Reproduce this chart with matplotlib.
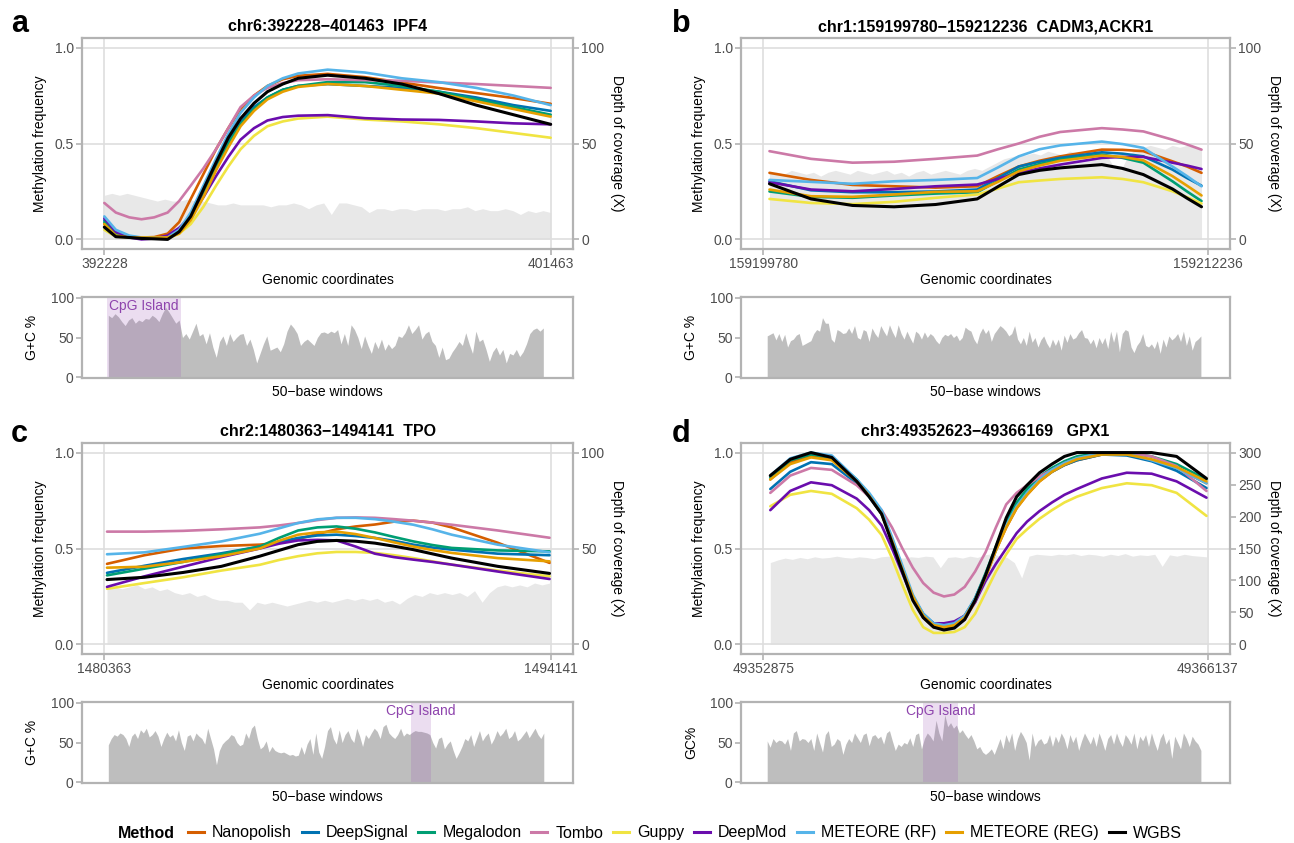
import numpy as np
import matplotlib
matplotlib.use('Agg')
import matplotlib.pyplot as plt
from matplotlib.lines import Line2D

plt.rcParams['font.family'] = ['Liberation Sans', 'DejaVu Sans']

methods = ['Nanopolish', 'DeepSignal', 'Megalodon', 'Tombo', 'Guppy', 'DeepMod',
           'METEORE (RF)', 'METEORE (REG)', 'WGBS']
colors = ['#D55E00', '#0072B2', '#009E73', '#CC79A7', '#F0E442', '#6A0DAD',
          '#56B4E9', '#E69F00', '#000000']

# ---- panel a: chr6 IPF4
a_title = 'chr6:392228\u2212401463  IPF4'
a_region = [392228, 401463]
a_pos = [392228, 392466, 392744, 392998, 393260, 393538, 393776, 394015,
         394277, 394539, 394793, 395047, 395325, 395603, 395920, 396238,
         396849, 397620, 398382, 399152, 399922, 400693, 401463]
a_meth = [
    [.08, .03, .012, .01, .012, .03, .09, .21, .34, .47, .58, .68, .75, .80, .835, .853, .863, .846, .818, .789, .763, .737, .707],
    [.10, .03, .012, .01, .01, .01, .04, .12, .25, .39, .51, .61, .69, .74, .78, .80, .81, .80, .79, .77, .74, .70, .67],
    [.09, .03, .012, .01, .01, .01, .035, .11, .23, .37, .50, .60, .68, .74, .78, .80, .82, .82, .80, .77, .73, .69, .65],
    [.19, .14, .115, .105, .115, .14, .20, .28, .37, .47, .58, .69, .75, .79, .815, .83, .835, .83, .827, .818, .81, .80, .79],
    [.05, .015, .01, .01, .008, .005, .03, .08, .17, .28, .38, .47, .54, .59, .615, .63, .64, .625, .615, .60, .58, .555, .53],
    [.11, .04, .01, .0, .005, .02, .06, .12, .22, .33, .43, .52, .58, .62, .638, .645, .648, .632, .625, .623, .615, .605, .60],
    [.12, .05, .02, .01, .01, .01, .05, .14, .28, .42, .55, .66, .74, .80, .84, .865, .885, .87, .84, .82, .79, .75, .70],
    [.08, .02, .01, .01, .01, .01, .03, .10, .22, .36, .48, .59, .67, .73, .77, .795, .81, .80, .78, .76, .72, .68, .64],
    [.064, .014, .01, .005, .003, .0, .04, .12, .26, .40, .53, .63, .71, .77, .81, .84, .856, .84, .81, .76, .70, .65, .60],
]
a_cov = [23, 24, 23, 24, 23, 22, 21, 20, 21, 20,
         20, 21, 20, 20, 19, 18, 18, 19, 18, 18,
         18, 18, 17, 18, 18, 19, 18, 16, 18, 19,
         13, 19, 19, 18, 17, 14, 16, 16, 15, 16,
         16, 15, 16, 16, 16, 15, 16, 16, 17, 15,
         16, 15, 15, 16, 15, 13, 15, 14, 15, 14]
a_gc = [78, 75, 80, 76, 70, 65, 72, 75, 68, 72,
        70, 74, 73, 78, 75, 70, 80, 88, 82, 75,
        68, 72, 50, 55, 48, 58, 68, 52, 55, 42,
        56, 38, 25, 45, 52, 40, 55, 45, 50, 54,
        55, 40, 48, 35, 18, 30, 42, 52, 34, 36,
        38, 32, 42, 58, 67, 62, 55, 40, 45, 48,
        44, 40, 50, 56, 57, 55, 58, 56, 60, 42,
        55, 40, 66, 60, 50, 36, 52, 40, 30, 45,
        36, 48, 34, 42, 36, 40, 52, 50, 56, 66,
        55, 60, 66, 48, 55, 58, 45, 40, 25, 38,
        22, 24, 32, 38, 45, 40, 56, 42, 30, 58,
        45, 48, 35, 20, 32, 38, 28, 35, 18, 30,
        28, 35, 26, 32, 42, 55, 60, 62, 58, 62]
a_island = [0, 21]

# ---- panel b: chr1 CADM3,ACKR1
b_title = 'chr1:159199780\u2212159212236  CADM3,ACKR1'
b_region = [159199780, 159212236]
b_pos = [159199955, 159201119, 159202283, 159203447, 159204611, 159205775,
         159206357, 159206939, 159207521, 159208103, 159209267, 159209849,
         159210431, 159211246, 159211654, 159212061]
b_meth = [
    [.347, .31, .284, .277, .27, .277, .33, .38, .41, .433, .468, .467, .46, .407, .38, .347],
    [.303, .256, .246, .246, .25, .26, .32, .38, .405, .425, .454, .447, .433, .364, .32, .28],
    [.25, .222, .217, .229, .239, .246, .305, .364, .393, .416, .442, .425, .40, .303, .25, .20],
    [.46, .42, .40, .405, .42, .437, .47, .50, .535, .56, .58, .573, .563, .52, .495, .468],
    [.211, .19, .184, .196, .217, .234, .265, .298, .307, .315, .324, .315, .298, .251, .22, .187],
    [.298, .26, .251, .263, .277, .286, .315, .347, .37, .39, .425, .43, .43, .40, .385, .367],
    [.31, .30, .29, .303, .31, .32, .375, .433, .47, .49, .51, .497, .477, .38, .33, .277],
    [.26, .225, .222, .234, .248, .251, .30, .355, .385, .41, .437, .43, .412, .33, .28, .229],
    [.29, .211, .177, .17, .182, .211, .275, .338, .36, .373, .39, .37, .338, .263, .215, .17],
]
b_cov = [35, 35, 34, 36, 35, 34, 35, 33, 35, 36,
         35, 34, 36, 35, 34, 35, 36, 34, 35, 33,
         35, 36, 34, 35, 36, 35, 34, 36, 37, 36,
         38, 40, 42, 43, 44, 44, 45, 44, 46, 45,
         44, 46, 45, 44, 45, 46, 44, 38, 36, 44,
         47, 48, 49, 48, 47, 49, 48, 49, 48, 47]
b_gc = [52, 54, 56, 47, 55, 45, 54, 38, 46, 48,
        53, 55, 40, 42, 44, 46, 55, 60, 58, 75,
        68, 68, 48, 44, 60, 58, 55, 56, 62, 55,
        65, 50, 48, 60, 58, 45, 62, 55, 50, 65,
        58, 52, 66, 57, 50, 66, 55, 48, 58, 50,
        43, 58, 55, 48, 57, 50, 55, 52, 46, 42,
        50, 54, 52, 55, 50, 53, 46, 50, 63, 60,
        58, 48, 42, 55, 62, 55, 60, 45, 55, 60,
        65, 62, 58, 52, 55, 65, 48, 42, 50, 40,
        58, 44, 50, 38, 47, 52, 43, 37, 48, 40,
        48, 34, 53, 44, 55, 48, 50, 56, 60, 50,
        49, 42, 48, 37, 50, 42, 50, 36, 58, 44,
        58, 32, 55, 60, 58, 38, 31, 40, 45, 55,
        40, 38, 42, 36, 46, 30, 48, 38, 52, 47,
        50, 55, 45, 58, 40, 52, 34, 45, 48, 52]
b_island = None

# ---- panel c: chr2 TPO
c_title = 'chr2:1480363\u22121494141  TPO'
c_region = [1480363, 1494141]
c_pos = [1480446, 1481607, 1482792, 1483976, 1485161, 1485753, 1486346, 1486938,
         1487530, 1488123, 1488715, 1489307, 1489900, 1490492, 1491085, 1492506, 1494106]
c_meth = [
    [.42, .465, .50, .513, .52, .53, .55, .575, .60, .615, .625, .64, .645, .635, .61, .53, .425],
    [.373, .41, .445, .475, .51, .535, .555, .568, .572, .565, .555, .54, .52, .505, .494, .473, .465],
    [.36, .395, .43, .47, .51, .555, .594, .61, .615, .603, .584, .56, .537, .518, .503, .49, .485],
    [.588, .588, .592, .60, .61, .62, .633, .648, .66, .662, .66, .653, .645, .635, .624, .594, .556],
    [.29, .32, .35, .385, .415, .44, .46, .475, .482, .482, .477, .465, .45, .433, .416, .385, .355],
    [.30, .355, .405, .455, .50, .525, .542, .545, .542, .51, .473, .455, .442, .43, .416, .38, .341],
    [.47, .48, .508, .537, .577, .605, .633, .652, .66, .66, .653, .64, .624, .60, .572, .52, .48],
    [.40, .405, .43, .46, .50, .54, .572, .584, .588, .575, .555, .532, .51, .492, .477, .45, .433],
    [.338, .35, .375, .407, .46, .49, .52, .537, .542, .538, .528, .512, .494, .472, .45, .407, .37],
]
c_cov = [29, 30, 29, 30, 31, 29, 30, 28, 29, 27,
         26, 27, 25, 26, 24, 23, 23, 22, 22, 18,
         22, 21, 22, 21, 20, 21, 22, 23, 22, 23,
         22, 23, 24, 23, 24, 23, 24, 22, 23, 21,
         24, 26, 25, 27, 26, 27, 26, 27, 25, 28,
         22, 27, 30, 31, 30, 31, 30, 32, 31, 32]
c_gc = [47, 55, 60, 58, 62, 60, 55, 45, 58, 62,
        55, 66, 62, 68, 57, 60, 65, 58, 45, 55,
        63, 57, 60, 52, 66, 50, 40, 58, 60, 52,
        62, 58, 55, 48, 68, 55, 42, 22, 40, 48,
        52, 55, 60, 58, 50, 46, 48, 62, 55, 68,
        72, 55, 42, 45, 52, 38, 45, 40, 38, 37,
        38, 36, 34, 35, 33, 34, 45, 35, 48, 55,
        35, 62, 38, 30, 45, 65, 70, 55, 48, 66,
        50, 60, 65, 55, 50, 68, 58, 45, 60, 55,
        62, 68, 64, 55, 70, 73, 62, 58, 55, 60,
        68, 58, 62, 60, 63, 65, 64, 64, 63, 62,
        60, 50, 43, 55, 57, 42, 48, 52, 40, 30,
        37, 45, 55, 52, 60, 45, 55, 65, 52, 58,
        62, 48, 55, 65, 58, 62, 68, 55, 58, 65,
        52, 55, 60, 65, 56, 62, 68, 60, 55, 62]
c_island = [104, 110]

# ---- panel d: chr3 GPX1
d_title = 'chr3:49352623\u221249366169   GPX1'
d_region = [49352875, 49366137]
d_pos = [49353086, 49353681, 49354300, 49354920, 49355664, 49356035, 49356407,
         49356717, 49357027, 49357337, 49357647, 49357957, 49358266, 49358576,
         49358886, 49359196, 49359506, 49359816, 49360125, 49360435, 49360745,
         49361117, 49361489, 49361861, 49362232, 49362976, 49363720, 49364463,
         49365207, 49366099]
d_meth = [
    [.86, .95, .98, .965, .85, .775, .68, .54, .39, .24, .14, .09, .08, .09, .13, .22, .35, .49, .61, .71, .78, .85, .90, .935, .96, .99, .99, .96, .92, .84],
    [.81, .90, .95, .94, .84, .77, .68, .55, .40, .25, .16, .11, .10, .11, .15, .24, .36, .50, .62, .72, .79, .855, .90, .935, .96, .99, .985, .955, .905, .815],
    [.87, .96, .99, .975, .86, .78, .69, .55, .40, .25, .15, .10, .09, .10, .14, .24, .37, .51, .64, .74, .81, .875, .92, .955, .98, 1.0, 1.0, .98, .94, .86],
    [.79, .88, .92, .91, .83, .77, .70, .61, .50, .40, .32, .27, .25, .26, .30, .38, .48, .61, .73, .79, .83, .875, .91, .945, .97, .995, 1.0, .98, .93, .80],
    [.72, .78, .80, .785, .71, .65, .57, .45, .31, .18, .09, .06, .06, .065, .09, .16, .27, .38, .47, .55, .60, .655, .70, .74, .77, .815, .84, .83, .79, .67],
    [.70, .80, .845, .83, .76, .70, .62, .50, .37, .24, .15, .11, .11, .12, .15, .22, .33, .42, .50, .58, .64, .695, .74, .78, .81, .865, .895, .89, .85, .765],
    [.88, .97, 1.0, .985, .86, .79, .70, .56, .41, .26, .16, .11, .10, .11, .15, .24, .36, .49, .62, .72, .79, .86, .91, .945, .97, 1.0, .995, .96, .92, .84],
    [.86, .94, .975, .96, .85, .775, .68, .54, .39, .25, .15, .10, .09, .10, .14, .23, .35, .49, .61, .71, .78, .85, .90, .937, .965, .99, .99, .965, .925, .85],
    [.88, .965, 1.0, .975, .85, .77, .68, .53, .38, .23, .14, .09, .075, .085, .13, .23, .36, .51, .66, .77, .83, .895, .94, .98, 1.0, 1.0, 1.0, 1.0, .98, .865],
]
d_cov = [128, 132, 135, 133, 136, 134, 137, 135, 136, 138,
         136, 135, 137, 136, 134, 137, 138, 136, 135, 137,
         136, 138, 137, 120, 136, 137, 135, 138, 136, 140,
         142, 138, 136, 128, 104, 138, 141, 140, 139, 141,
         140, 142, 139, 141, 140, 138, 141, 139, 142, 138,
         140, 139, 141, 122, 140, 138, 141, 139, 138, 137]
d_gc = [52, 44, 55, 50, 53, 52, 48, 55, 40, 62,
        65, 52, 55, 54, 50, 55, 40, 62, 50, 38,
        60, 65, 45, 48, 55, 52, 35, 48, 55, 50,
        62, 56, 50, 60, 62, 46, 58, 60, 55, 58,
        48, 62, 65, 52, 40, 48, 45, 50, 48, 56,
        45, 60, 62, 42, 55, 62, 58, 52, 78, 62,
        52, 85, 70, 75, 68, 72, 62, 66, 60, 55,
        60, 52, 42, 45, 38, 35, 38, 42, 35, 45,
        55, 42, 60, 50, 62, 40, 55, 64, 58, 50,
        28, 62, 45, 52, 55, 48, 50, 60, 45, 58,
        50, 62, 55, 42, 60, 50, 58, 40, 52, 62,
        55, 48, 58, 45, 62, 52, 40, 55, 60, 48,
        62, 52, 45, 60, 55, 48, 62, 42, 58, 52,
        60, 45, 62, 50, 40, 55, 62, 48, 55, 30,
        58, 50, 42, 62, 55, 45, 58, 52, 48, 40]
d_island = [54, 65]

W, H = 1294, 843
fig = plt.figure(figsize=(W / 100, H / 100), dpi=100)

FRAME = '#B3B3B3'
GRID = '#DEDEDE'
TICKLAB = '#4D4D4D'


def rect(x0, y0, x1, y1):
    return [x0 / W, 1 - y1 / H, (x1 - x0) / W, (y1 - y0) / H]


def style_spines(ax):
    for s in ax.spines.values():
        s.set_color(FRAME)
        s.set_linewidth(1.6)


def draw_top(box, title, region, pos, rows, cov, cov_top, cov_step):
    ax = fig.add_axes(rect(*box))
    tw = ax.twinx()
    ax.set_zorder(tw.get_zorder() + 1)
    ax.patch.set_visible(False)

    s, e = region
    pad = 0.05 * (e - s)
    ax.set_xlim(s - pad, e + pad)
    ax.set_ylim(-0.05, 1.05)
    tw.set_ylim(-0.05 * cov_top, 1.05 * cov_top)

    # coverage track spans the same stretch as the methylation calls
    cx = np.linspace(pos[0], pos[-1], len(cov))
    tw.fill_between(cx, 0, cov, color='#E8E8E8', lw=0)

    for row, c in zip(rows, colors):
        lw = 2.2 if c == '#000000' else 1.9
        ax.plot(pos, row, color=c, lw=lw, solid_joinstyle='round', solid_capstyle='round')

    ax.set_xticks([s, e])
    ax.set_xticklabels([str(s), str(e)])
    ax.set_yticks([0, 0.5, 1.0])
    ax.set_yticklabels(['0.0', '0.5', '1.0'])
    tw.set_yticks(np.arange(0, cov_top + 1, cov_step))
    ax.grid(True, color=GRID, lw=1.2)

    style_spines(ax)
    for sp in tw.spines.values():
        sp.set_visible(False)
    for a in (ax, tw):
        a.tick_params(color=FRAME, labelcolor=TICKLAB, length=4, width=1.2, labelsize=10, pad=2)

    ax.set_xlabel('Genomic coordinates', fontsize=10, labelpad=1)
    ax.set_ylabel('Methylation frequency', fontsize=10, labelpad=5)
    tw.set_ylabel('Depth of coverage (X)', fontsize=10, rotation=-90, va='bottom', labelpad=4)
    ax.set_title(title, fontsize=11.5, fontweight='bold', pad=5)


def draw_gc(box, gc, island, ylabel):
    bx = fig.add_axes(rect(*box))
    n = len(gc)
    idx = np.arange(n)
    bx.fill_between(idx, 0, gc, color='#BEBEBE', lw=0)
    if island is not None:
        bx.axvspan(island[0] - 0.5, island[1] + 0.5, color='#9B59B6', alpha=0.2, lw=0)
        bx.text((island[0] + island[1]) / 2, 90, 'CpG Island', color='#8E44AD',
                ha='center', va='center', fontsize=10)
    bx.set_xlim(-0.06 * n, 1.06 * n)
    bx.set_ylim(-1, 101)
    bx.set_xticks([])
    bx.set_yticks([0, 50, 100])
    style_spines(bx)
    bx.tick_params(color=FRAME, labelcolor=TICKLAB, length=4, width=1.2, labelsize=10, pad=2)
    bx.set_xlabel('50\u2212base windows', fontsize=10, labelpad=5)
    bx.set_ylabel(ylabel, fontsize=10, labelpad=8)


draw_top((82, 38, 573, 249), a_title, a_region, a_pos, a_meth, a_cov, 100, 50)
draw_top((741, 38, 1230, 249), b_title, b_region, b_pos, b_meth, b_cov, 100, 50)
draw_top((82, 443, 573, 654), c_title, c_region, c_pos, c_meth, c_cov, 100, 50)
draw_top((741, 443, 1230, 654), d_title, d_region, d_pos, d_meth, d_cov, 300, 50)

draw_gc((82, 297, 573, 378), a_gc, a_island, 'G+C %')
draw_gc((741, 297, 1230, 378), b_gc, b_island, 'G+C %')
draw_gc((82, 702, 573, 783), c_gc, c_island, 'G+C %')
draw_gc((741, 702, 1230, 783), d_gc, d_island, 'GC%')

for letter, x, y in [('a', 11, 32), ('b', 672, 32), ('c', 11, 442), ('d', 672, 442)]:
    fig.text(x / W, 1 - y / H, letter, fontsize=22, fontweight='bold', va='baseline', ha='left')

handles = [Line2D([], [], color=c, lw=2.2) for c in colors]
fig.text(118 / W, 1 - 833 / H, 'Method', fontsize=11.5, fontweight='bold', va='center', ha='left')
fig.legend(handles, methods, loc='center left', bbox_to_anchor=(188 / W, 1 - 833 / H),
           ncol=9, frameon=False, fontsize=11.5, handlelength=1.0, handletextpad=0.5,
           columnspacing=0.62, borderaxespad=0, borderpad=0)

fig.savefig('out.png', dpi=100)
